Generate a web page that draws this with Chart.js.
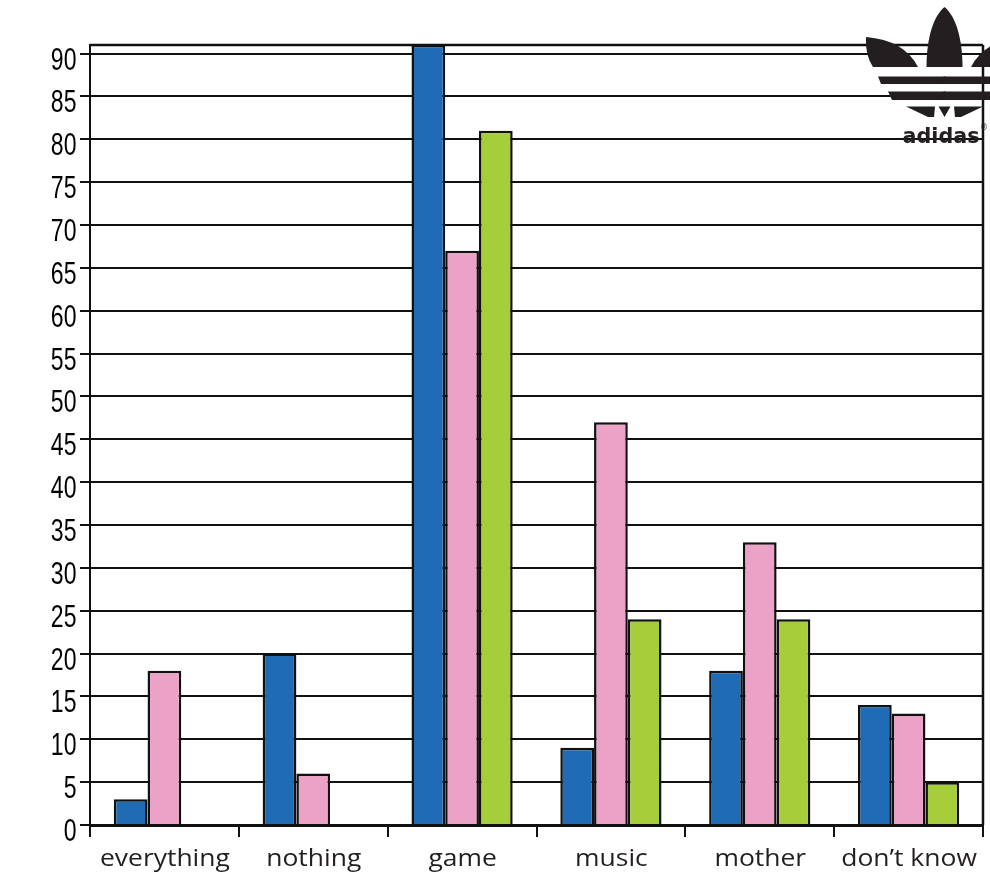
<!DOCTYPE html>
<html>
<head>
<meta charset="utf-8">
<script src="https://cdn.jsdelivr.net/npm/chart.js@4"></script>
<style>
  html, body { margin: 0; padding: 0; background: #fff; }
</style>
</head>
<body>
<canvas id="graphique" width="990" height="876"></canvas>
<script>
// réponses par catégorie, trois séries
const categories = ['everything', 'nothing', 'game', 'music', 'mother', 'don\u2019t know'];
const serieBleue = [3, 20, 91, 9, 18, 14];
const serieRose = [18, 6, 67, 47, 33, 13];
const serieVerte = [0, 0, 81, 24, 24, 5];
const graduations = [0, 5, 10, 15, 20, 25, 30, 35, 40, 45, 50, 55, 60, 65, 70, 75, 80, 85, 90];
const yMax = 91;

const NOIR = '#111';

// cadre du haut et de droite
const cadre = {
    id: 'cadre',
    beforeDatasetsDraw(chart) {
        const ctx = chart.ctx;
        const a = chart.chartArea;
        ctx.save();
        ctx.strokeStyle = NOIR;
        ctx.lineWidth = 2.5;
        ctx.beginPath();
        ctx.moveTo(a.left, a.top);
        ctx.lineTo(a.right, a.top);
        ctx.moveTo(a.right, a.top);
        ctx.lineTo(a.right, a.bottom);
        ctx.stroke();
        ctx.restore();
    }
};

// libellés des axes : chiffres étroits à gauche, catégories élargies en bas
const libelles = {
    id: 'libelles',
    afterDraw(chart) {
        const ctx = chart.ctx;
        const sy = chart.scales.y;
        const sx = chart.scales.x;
        ctx.save();
        ctx.fillStyle = '#000';
        ctx.font = '32px "Liberation Sans", Arial, sans-serif';
        ctx.textAlign = 'right';
        ctx.textBaseline = 'alphabetic';
        graduations.forEach(function (v) {
            const y = sy.getPixelForValue(v);
            ctx.save();
            ctx.translate(76.5, y + 16);
            ctx.scale(0.72, 1);
            ctx.fillText(String(v), 0, 0);
            ctx.restore();
        });
        ctx.fillStyle = '#231f20';
        ctx.font = '23px "Open Sans", sans-serif';
        ctx.textAlign = 'center';
        categories.forEach(function (c, i) {
            const x = sx.getPixelForValue(i);
            ctx.save();
            ctx.translate(x + 0.5, 866);
            ctx.scale(1.15, 1);
            ctx.fillText(c, 0, 0);
            ctx.restore();
        });
        ctx.restore();
    }
};

// logo trèfle en haut à droite
const logo = {
    id: 'logo',
    afterDraw(chart) {
        const ctx = chart.ctx;
        const c = 944.5;
        ctx.save();
        ctx.fillStyle = '#231f20';
        [1, -1].forEach(function (s) {
            const x = function (v) { return c + s * (v - c); };
            // feuille latérale
            ctx.beginPath();
            ctx.moveTo(x(866), 37);
            ctx.quadraticCurveTo(x(904), 40, x(918), 67);
            ctx.lineTo(x(873), 67);
            ctx.quadraticCurveTo(x(865), 55, x(866), 37);
            ctx.fill();
            // bandes
            ctx.beginPath();
            ctx.moveTo(x(878), 76.5);
            ctx.lineTo(x(c + 1), 76.5);
            ctx.lineTo(x(c + 1), 84);
            ctx.lineTo(x(881), 84);
            ctx.closePath();
            ctx.fill();
            ctx.beginPath();
            ctx.moveTo(x(888), 91.5);
            ctx.lineTo(x(c + 1), 91.5);
            ctx.lineTo(x(c + 1), 100);
            ctx.lineTo(x(892), 100);
            ctx.closePath();
            ctx.fill();
            // pied
            ctx.beginPath();
            ctx.moveTo(x(906), 106.5);
            ctx.lineTo(x(935), 106.5);
            ctx.lineTo(x(934), 117);
            ctx.lineTo(x(928), 117);
            ctx.closePath();
            ctx.fill();
        });
        // feuille centrale
        ctx.beginPath();
        ctx.moveTo(c, 7);
        ctx.bezierCurveTo(c - 11, 16, c - 18, 38, c - 18, 67);
        ctx.lineTo(c + 18, 67);
        ctx.bezierCurveTo(c + 18, 38, c + 11, 16, c, 7);
        ctx.fill();
        // pointe du bas
        ctx.beginPath();
        ctx.moveTo(c - 6, 106.5);
        ctx.lineTo(c + 6, 106.5);
        ctx.lineTo(c, 117);
        ctx.closePath();
        ctx.fill();
        ctx.font = 'bold 22px "DejaVu Sans", sans-serif';
        ctx.textAlign = 'center';
        ctx.textBaseline = 'alphabetic';
        ctx.fillText('adidas', 941, 143, 77);
        ctx.font = '8px "DejaVu Sans", sans-serif';
        ctx.fillText('\u00ae', 984, 130);
        ctx.restore();
    }
};

function serie(valeurs, couleur) {
    return {
        data: valeurs,
        backgroundColor: couleur,
        borderColor: NOIR,
        borderWidth: 2.5,
        borderSkipped: 'start',
        categoryPercentage: 0.68,
        barPercentage: 1
    };
}

var ctx = document.getElementById('graphique').getContext('2d');
var graphique = new Chart(ctx, {
    type: 'bar',
    data: {
        labels: categories,
        datasets: [
            serie(serieBleue, '#1f6bb5'),
            serie(serieRose, '#eca1c6'),
            serie(serieVerte, '#a6ce3a')
        ]
    },
    options: {
        responsive: false,
        animation: false,
        layout: { padding: { top: 45, right: 7, left: 0, bottom: 0 } },
        plugins: {
            legend: { display: false },
            tooltip: { enabled: false }
        },
        scales: {
            x: {
                grid: {
                    display: true,
                    drawOnChartArea: false,
                    drawTicks: true,
                    tickLength: 12,
                    color: NOIR,
                    lineWidth: 2,
                    offset: true
                },
                border: { display: true, color: NOIR, width: 3 },
                ticks: { display: false },
                afterFit: function (scale) { scale.height = 51; }
            },
            y: {
                min: 0,
                max: yMax,
                afterBuildTicks: function (scale) {
                    scale.ticks = graduations.map(function (v) { return { value: v }; });
                },
                grid: {
                    color: NOIR,
                    lineWidth: 2,
                    tickLength: 10,
                    drawTicks: true
                },
                border: { display: true, color: NOIR, width: 2 },
                ticks: { display: false },
                afterFit: function (scale) { scale.width = 90; }
            }
        }
    },
    plugins: [cadre, libelles, logo]
});
</script>
</body>
</html>
